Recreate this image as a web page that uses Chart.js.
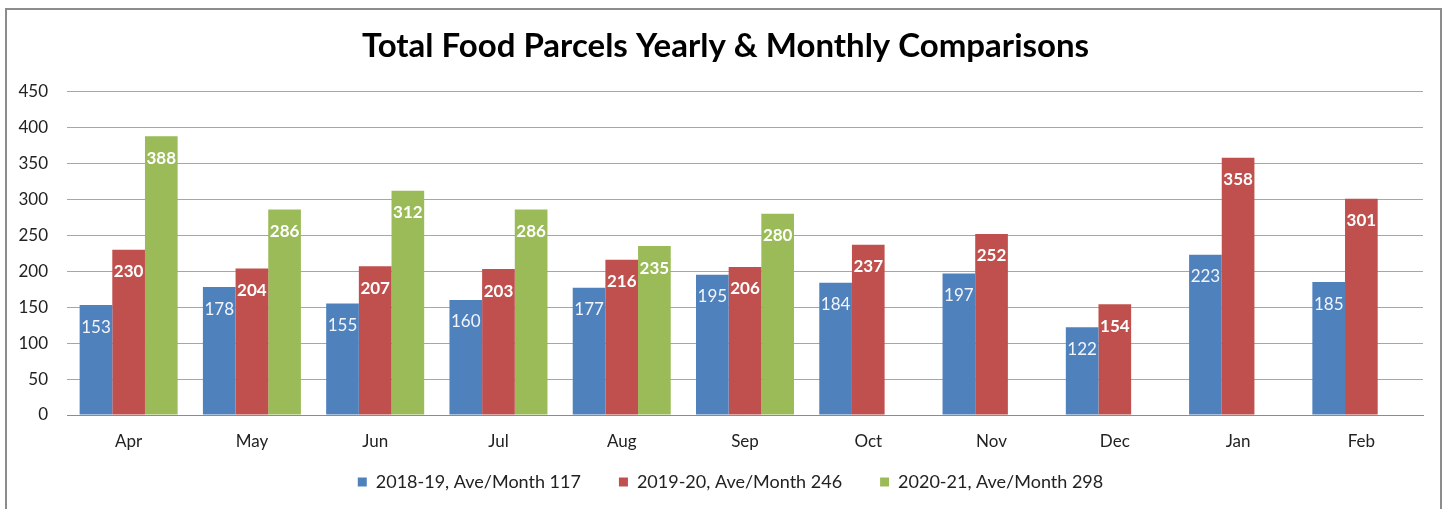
<!DOCTYPE html>
<html>
<head>
<meta charset="utf-8">
<script src="https://cdn.jsdelivr.net/npm/chart.js@4.4.0/dist/chart.umd.min.js"></script>
<style>
  body { margin: 0; background: #fff; }
  #wrap { position: relative; width: 1450px; height: 509px; overflow: hidden; }
  #frame { position: absolute; left: 5px; top: 8px; width: 1437px; height: 520px; border: 2px solid #8c8c8c; box-sizing: border-box; }
  #chartFood { position: absolute; left: 0; top: 0; }
</style>
</head>
<body>
<div id="wrap">
  <div id="frame"></div>
  <canvas id="chartFood" width="1450" height="509"></canvas>
</div>
<script>
const months = ['Apr', 'May', 'Jun', 'Jul', 'Aug', 'Sep', 'Oct', 'Nov', 'Dec', 'Jan', 'Feb']
const y1819 = [153, 178, 155, 160, 177, 195, 184, 197, 122, 223, 185]
const y1920 = [230, 204, 207, 203, 216, 206, 237, 252, 154, 358, 301]
const y2021 = [388, 286, 312, 286, 235, 280, null, null, null, null, null]
const seriesNames = ['2018-19, Ave/Month 117', '2019-20, Ave/Month 246', '2020-21, Ave/Month 298']
const yTicks = [0, 50, 100, 150, 200, 250, 300, 350, 400, 450]

const FONT = 'Lato, "Open Sans", sans-serif'

// value labels inside the top of each bar
const barLabels = {
  id: 'barLabels',
  afterDatasetsDraw(chart) {
    const c = chart.ctx
    chart.data.datasets.forEach((ds, i) => {
      const meta = chart.getDatasetMeta(i)
      meta.data.forEach((bar, j) => {
        const v = ds.data[j]
        if (v == null) return
        c.save()
        c.font = (i == 0 ? 'normal ' : 'bold ') + '17px ' + FONT
        c.fillStyle = i == 0 ? '#f2f5fb' : '#ffffff'
        c.textAlign = 'center'
        c.textBaseline = 'middle'
        c.fillText(String(v), bar.x, bar.y + 22)
        c.restore()
      })
    })
  }
}

// nudge title and legend to where the original had them
const nudgeBoxes = {
  id: 'nudgeBoxes',
  afterLayout(chart) {
    const lg = chart.legend
    if (lg) {
      lg.top -= 29
      lg.bottom -= 29
      lg.left += 19
      lg.right += 19
    }
    const tb = chart.titleBlock
    if (tb) {
      tb.left += 14
      tb.right += 14
    }
  }
}

const ctx = document.getElementById('chartFood')
const chartFood = new Chart(ctx, {
  type: 'bar',
  data: {
    labels: months,
    datasets: [
      { label: seriesNames[0], data: y1819, backgroundColor: '#4F81BD' },
      { label: seriesNames[1], data: y1920, backgroundColor: '#C0504D' },
      { label: seriesNames[2], data: y2021, backgroundColor: '#9BBB59' }
    ]
  },
  options: {
    responsive: false,
    animation: false,
    layout: { padding: { left: 0, right: 27, top: 0, bottom: -21 } },
    datasets: {
      bar: { barPercentage: 1, categoryPercentage: 0.795 }
    },
    plugins: {
      title: {
        display: true,
        text: 'Total Food Parcels Yearly & Monthly Comparisons',
        color: '#000',
        font: { family: FONT, size: 33, weight: 'bold' },
        padding: { top: 27, bottom: 25 }
      },
      legend: {
        position: 'bottom',
        labels: {
          color: '#222',
          font: { family: FONT, size: 18 },
          boxWidth: 9,
          boxHeight: 9,
          padding: 38
        }
      },
      tooltip: { enabled: false }
    },
    scales: {
      x: {
        grid: { display: false, drawTicks: false },
        border: { color: '#8c8c8c', width: 1 },
        ticks: { color: '#222', font: { family: FONT, size: 17 }, padding: 16 },
        afterFit(scale) { scale.height = 49 }
      },
      y: {
        min: 0,
        max: 450,
        afterBuildTicks(scale) { scale.ticks = yTicks.map(v => ({ value: v })) },
        grid: { color: '#a6a6a6', drawTicks: false },
        border: { display: false },
        ticks: { color: '#222', font: { family: FONT, size: 17 }, padding: 19 },
        afterFit(scale) { scale.width = 67 }
      }
    }
  },
  plugins: [barLabels, nudgeBoxes]
})
</script>
</body>
</html>
